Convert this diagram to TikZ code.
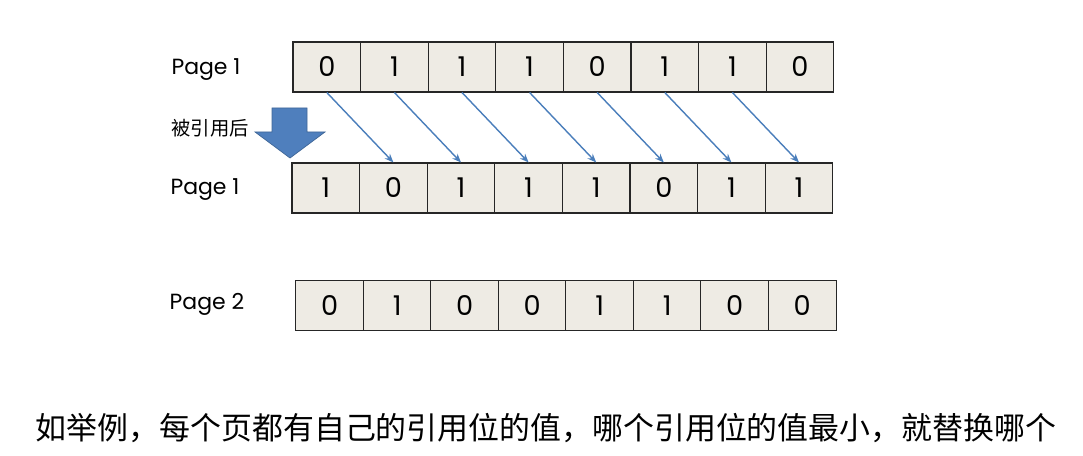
\documentclass[tikz,border=0pt]{standalone}
\usepackage{fontspec}
\newfontfamily\cjk{Noto Sans CJK SC}
\newfontfamily\pagefont{Poppins}
\usetikzlibrary{arrows.meta}
\definecolor{cellfill}{HTML}{EEEBE4}
\definecolor{refblue}{HTML}{4A7EBB}
\definecolor{bigblue}{HTML}{4F7FBD}
\begin{document}
\begin{tikzpicture}[x=0.02cm,y=-0.02cm]
		\useasboundingbox (0,0) rectangle (1083,456);
		
		\tikzstyle{bit}=[rectangle,
		draw=black!85,
		fill=cellfill,
		line width=0.6pt,
		inner sep=0pt,
		minimum width=1.352cm,
		minimum height=1.0cm,
		font=\pagefont\fontsize{15.5}{15.5}\selectfont
		]
		\tikzstyle{pagelabel}=[font=\pagefont\fontsize{12.5}{12.5}\selectfont]
		\tikzstyle{refarrow}=[draw=refblue,line width=0.8pt,-{Stealth[length=5pt,width=4pt]}]
		
		% labels of the rows
		\node[pagelabel] (lbl1) at (206, 70) {Page 1};
		\node[pagelabel] (lbl2) at (205,190) {Page 1};
		\node[pagelabel] (lbl3) at (207,304) {Page 2};
		
		% page 1, before
		\foreach \v [count=\i] in {0,1,1,1,0,1,1,0}
			\node[bit] (t\i) at ({293+67.6*(\i-0.5)}, 67) {\v};
		
		% page 1, after
		\foreach \v [count=\i] in {1,0,1,1,1,0,1,1}
			\node[bit] (m\i) at ({292+67.6*(\i-0.5)}, 188) {\v};
		
		% page 2
		\foreach \v [count=\i] in {0,1,0,0,1,1,0,0}
			\node[bit] (b\i) at ({296+67.5*(\i-0.5)}, 305.5) {\v};
		
		% shift of the reference bits
		\foreach \i [evaluate=\i as \j using int(\i+1)] in {1,...,7}
			\draw[refarrow] (t\i.south) -- (m\j.north);
		
		% big arrow
		\node[font=\cjk\fontsize{11}{11}\selectfont] (after) at (210,128) {被引用后};
		\draw[fill=bigblue,draw=bigblue!80!black,line width=0.4pt]
			(272,108) -- (307,108) -- (307,132) -- (325,132) -- (290,158)
			-- (255,132) -- (272,132) -- cycle;
		
		\node[font=\cjk\fontsize{17.6}{17.6}\selectfont] (note) at (546,428)
			{如举例，每个页都有自己的引用位的值，哪个引用位的值最小，就替换哪个};
		
		\end{tikzpicture}
\end{document}
